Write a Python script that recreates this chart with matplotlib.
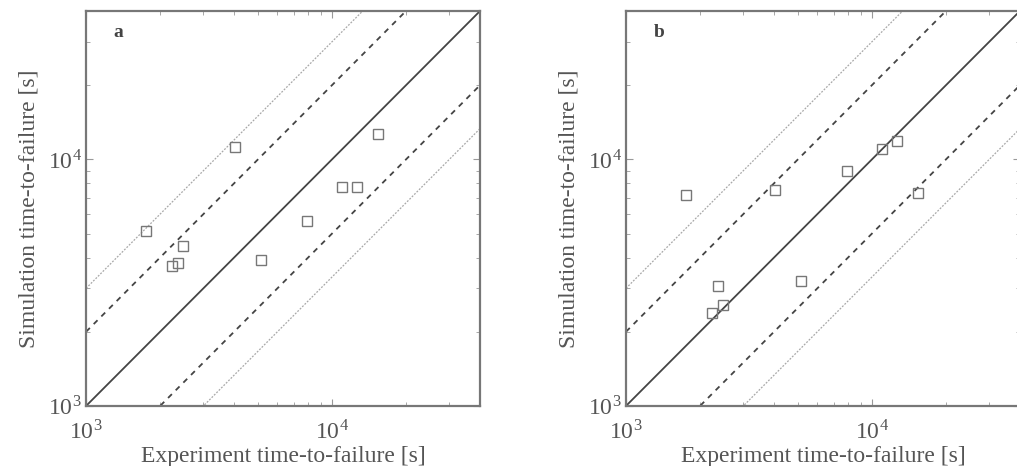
import numpy as np
import matplotlib
matplotlib.use('Agg')
import matplotlib.pyplot as plt
from matplotlib.ticker import LogLocator, NullFormatter

plt.rcParams['font.family'] = ['Liberation Serif', 'DejaVu Serif']
plt.rcParams['mathtext.fontset'] = 'stix'

# experimental time-to-failure (same tests in both panels)
experiment = [1750, 4050, 2480, 2360, 2240, 5140, 7890, 11000, 12700, 15400]
# simulated time-to-failure
sim_a = [5140, 11250, 4470, 3800, 3680, 3900, 5610, 7720, 7720, 12700]
sim_b = [7160, 7500, 2570, 3080, 2380, 3220, 8940, 11000, 11900, 7280]

limits = [1e3, 4e4]
ratio_solid = [1]
ratio_dashed = [2, 0.5]
ratio_dotted = [3, 1 / 3]

panels = [('a', sim_a), ('b', sim_b)]
lefts = [0.0846, 0.6155]

fig = plt.figure(figsize=(10.17, 4.66), dpi=100)

for (tag, sim), left in zip(panels, lefts):
    ax = fig.add_axes([left, 0.1288, 0.3874, 0.8476])
    ax.set_xscale('log')
    ax.set_yscale('log')
    x = np.array(limits)
    for r in ratio_dotted:
        ax.plot(x, x * r, color='#a8a8a8', lw=0.9, ls=(0, (1.5, 1.2)))
    for r in ratio_dashed:
        ax.plot(x, x * r, color='#444444', lw=1.3, ls=(0, (3, 3)))
    for r in ratio_solid:
        ax.plot(x, x * r, color='#444444', lw=1.3)
    ax.plot(experiment, sim, 's', ms=7, mfc='none', mec='#777777', mew=1.0)

    ax.set_xlim(limits)
    ax.set_ylim(limits)
    ax.set_xticks([1e3, 1e4])
    ax.set_yticks([1e3, 1e4])
    labels = ['10$^{\\mathregular{3}}$', '10$^{\\mathregular{4}}$']
    ax.set_xticklabels(labels)
    ax.set_yticklabels(labels)
    ax.xaxis.set_minor_locator(LogLocator(base=10, subs=np.arange(2, 10)))
    ax.yaxis.set_minor_locator(LogLocator(base=10, subs=np.arange(2, 10)))
    ax.xaxis.set_minor_formatter(NullFormatter())
    ax.yaxis.set_minor_formatter(NullFormatter())
    ax.tick_params(which='both', direction='in', top=True, right=True,
                   color='#999999', labelcolor='#555555', labelsize=17)
    ax.tick_params(which='major', length=5)
    ax.tick_params(which='minor', length=3)
    ax.tick_params(axis='x', pad=10)
    ax.tick_params(axis='y', pad=3)
    for s in ax.spines.values():
        s.set_color('#777777')
        s.set_linewidth(1.6)

    ax.set_xlabel('Experiment time-to-failure [s]', fontsize=17, color='#555555', labelpad=1)
    ax.set_ylabel('Simulation time-to-failure [s]', fontsize=17, color='#555555', labelpad=6)
    ax.text(0.07, 0.945, tag, transform=ax.transAxes, fontsize=14,
            fontweight='bold', color='#444444', va='center')

fig.savefig('out.png', dpi=100)
